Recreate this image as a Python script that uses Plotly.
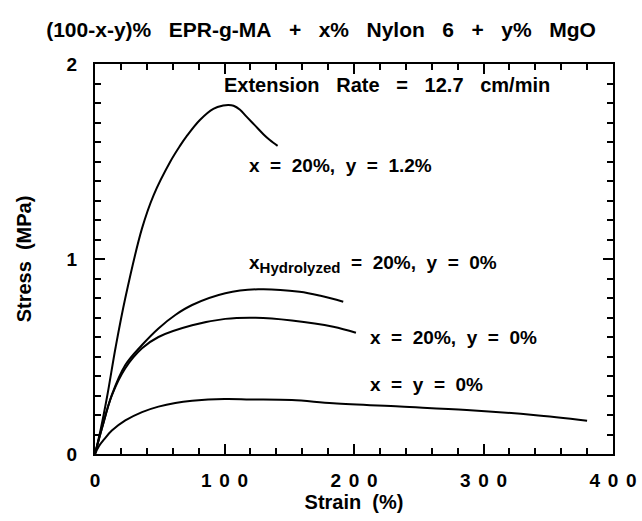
import plotly.graph_objects as go

# Stress-strain curves for EPR-g-MA / Nylon 6 / MgO blends
strain_mgo = [0, 4.5, 9.5, 16, 23.4, 36.3, 45.3, 58.2, 65.6, 70.8, 81, 91.4, 99, 103, 107, 112, 117, 123.5, 130, 135, 141]
stress_mgo = [0, 0.13, 0.30, 0.55, 0.80, 1.157, 1.328, 1.50, 1.58, 1.63, 1.713, 1.77, 1.787, 1.79, 1.786, 1.765, 1.73, 1.685, 1.64, 1.61, 1.58]

strain_hyd = [0, 5.4, 13, 23.4, 36.3, 49, 62, 75, 100.6, 126, 158, 175, 191.7]
stress_hyd = [0, 0.133, 0.303, 0.456, 0.559, 0.644, 0.713, 0.764, 0.824, 0.845, 0.832, 0.81, 0.781]

strain_ny = [0, 5.4, 13, 23.4, 36.3, 49, 75, 100.6, 124, 152, 184, 201.5]
stress_ny = [0, 0.133, 0.30, 0.44, 0.542, 0.60, 0.66, 0.693, 0.699, 0.685, 0.653, 0.622]

strain_neat = [0, 3, 7, 13, 23.4, 36.3, 49, 62, 75, 100, 120, 152, 184, 235.5, 287, 338.5, 380]
stress_neat = [0, 0.04, 0.075, 0.12, 0.172, 0.215, 0.243, 0.262, 0.273, 0.282, 0.28, 0.277, 0.26, 0.243, 0.226, 0.2, 0.171]

X_RANGE = [0, 400]
Y_RANGE = [0, 2]

# tick labels are printed with spread-out digits
TS = "\u2009\u2009"
x_tick_alias = {"100": TS.join("100"), "200": TS.join("200"),
                "300": TS.join("300"), "400": TS.join("400")}

NB = "\u00a0"
def sp(s, n=2):
    # widen the word gaps with repeated spaces
    return s.replace(" ", NB * (n - 1) + " ")

FONT = "Liberation Sans"
def bold(size):
    return dict(family=FONT, size=size, color="black", weight="bold")

fig = go.Figure()
for xs, ys in [(strain_mgo, stress_mgo), (strain_hyd, stress_hyd),
               (strain_ny, stress_ny), (strain_neat, stress_neat)]:
    fig.add_trace(go.Scatter(x=xs, y=ys, mode="lines",
                             line=dict(color="black", width=2, shape="spline", smoothing=1),
                             showlegend=False, hoverinfo="skip"))

# empty trace that carries the overlay axes used for the minor ticks
fig.add_trace(go.Scatter(x=[], y=[], xaxis="x2", yaxis="y2", showlegend=False,
                         hoverinfo="skip"))

fig.add_annotation(x=98, y=1.892, text=sp("Extension Rate = 12.7 cm/min", 3),
                   showarrow=False, xanchor="left", yanchor="middle", font=bold(20))

labels = [
    (117.4, 1.482, "x = 20%, y = 1.2%"),
    (210.8, 0.60, "x = 20%, y = 0%"),
    (210.8, 0.354, "x = y = 0%"),
]
for x, y, t in labels:
    fig.add_annotation(x=x, y=y, text=sp(t), showarrow=False, xanchor="left",
                       yanchor="middle", font=bold(19))

fig.add_annotation(x=117.4, y=0.975,
                   text="x<sub><span style='font-size:15px'>Hydrolyzed</span></sub>"
                        + sp(" = 20%, y = 0%"),
                   showarrow=False, xanchor="left", yanchor="middle", font=bold(19))

major = dict(tickmode="linear", tick0=0, showline=True, linewidth=2, linecolor="black",
             mirror="ticks", ticks="inside", ticklen=10, tickwidth=2, tickcolor="black",
             showgrid=False, zeroline=False, tickfont=bold(19))
minor = dict(tickmode="linear", tick0=0, ticks="inside", ticklen=6, tickwidth=1.5,
             tickcolor="black", showticklabels=False, mirror="allticks",
             showgrid=False, zeroline=False, showline=False)

fig.update_layout(
    template="none",
    width=642, height=521,
    margin=dict(l=95, r=29, t=64, b=67),
    paper_bgcolor="white", plot_bgcolor="white",
    title=dict(text=sp("(100-x-y)% EPR-g-MA + x% Nylon 6 + y% MgO", 3),
               x=0.5, xanchor="center", y=1 - 30 / 521, yanchor="middle",
               font=bold(21)),
    xaxis=dict(range=X_RANGE, dtick=100, labelalias=x_tick_alias, ticklabelstandoff=8,
               title=dict(text=sp("Strain (%)"), font=bold(20), standoff=2), **major),
    yaxis=dict(range=Y_RANGE, dtick=1, ticklabelstandoff=12,
               title=dict(text=sp("Stress (MPa)"), font=bold(20), standoff=30), **major),
    xaxis2=dict(range=X_RANGE, dtick=20, overlaying="x", anchor="y2", side="bottom", **minor),
    yaxis2=dict(range=Y_RANGE, dtick=0.1, overlaying="y", anchor="x2", side="left", **minor),
)

fig.write_html("out.html")
